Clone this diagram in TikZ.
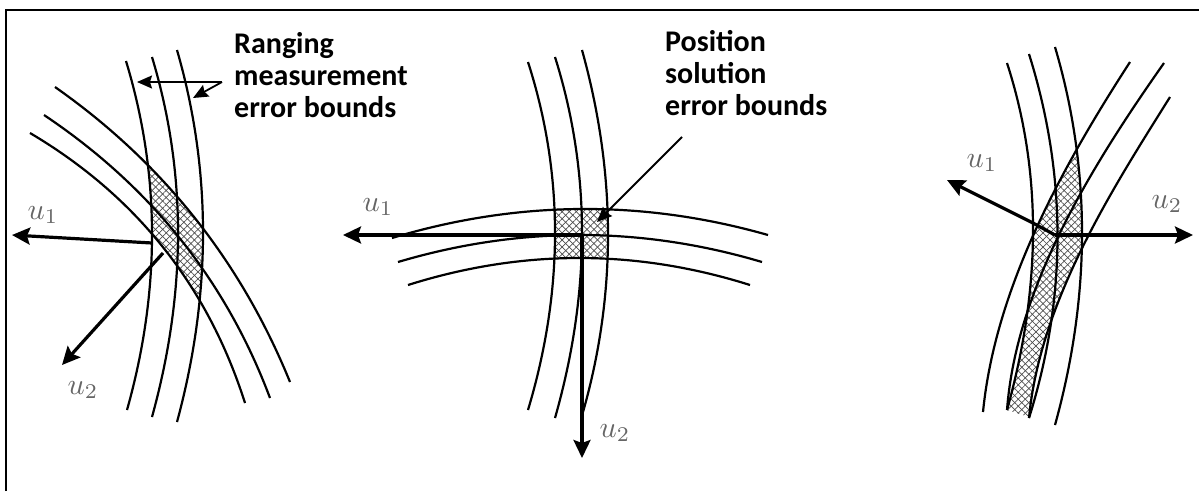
\documentclass[tikz,border=0pt]{standalone}
\usepackage{fontspec}
\setmainfont{Carlito}
\usetikzlibrary{arrows.meta,patterns.meta}
\tikzset{
  curve/.style={line width=2.2pt},
  uarrow/.style={line width=3.2pt,-{Stealth[length=18pt,width=17pt,inset=3pt]}},
  pointer/.style={line width=1.8pt,-{Stealth[length=15pt,width=13pt,inset=2pt]}},
  hatchA/.style={pattern={Lines[angle=45,distance=5pt,line width=0.7pt]},pattern color=black!70},
  hatchB/.style={pattern={Lines[angle=-45,distance=5pt,line width=0.7pt]},pattern color=black!70},
  lbl/.style={font=\fontsize{30}{32}\selectfont\bfseries,align=left,inner sep=0pt,anchor=base west},
  ulbl/.style={scale=3.0,text=black!60,inner sep=0pt},
  frame/.style={line width=2.2pt}
}
\begin{document}
\begin{tikzpicture}[x=1pt,y=-1pt]
\useasboundingbox (0,0) rectangle (1199,491);
\draw[frame] (6,491) -- (6,10) -- (1199,10);

% ---------------- left panel ----------------
\begin{scope}
  \clip (126,61) .. controls (160.33,174) and (160.67,290.33) .. (127,410)
     -- (177,422) .. controls (211.67,294) and (211.67,170) .. (177,50) -- cycle;
  \fill[hatchA] (55,87) .. controls (162.33,162.33) and (240.67,260.67) .. (290,382)
     -- (245,403) .. controls (207.67,285.67) and (136,195.67) .. (30,133) -- cycle;
  \fill[hatchB] (55,87) .. controls (162.33,162.33) and (240.67,260.67) .. (290,382)
     -- (245,403) .. controls (207.67,285.67) and (136,195.67) .. (30,133) -- cycle;
\end{scope}
\draw[curve] (126,61) .. controls (160.33,174) and (160.67,290.33) .. (127,410);
\draw[curve] (152,57) .. controls (186.67,171.67) and (186.67,291.67) .. (152,417);
\draw[curve] (177,50) .. controls (211.67,170) and (211.67,294) .. (177,422);
\draw[curve] (55,87) .. controls (162.33,162.33) and (240.67,260.67) .. (290,382);
\draw[curve] (44,115) .. controls (150.67,186.33) and (226,280.67) .. (270,398);
\draw[curve] (30,133) .. controls (136,195.67) and (207.67,285.67) .. (245,403);

\coordinate (Lo1) at (152,243);
\coordinate (Le1) at (12,235);
\coordinate (Lo2) at (163,253);
\coordinate (Le2) at (62,365);
\draw[uarrow] (Lo1) -- (Le1);
\draw[uarrow] (Lo2) -- (Le2);
\node[ulbl] (Lu1) at (43,215) {$u_1$};
\node[ulbl] (Lu2) at (83,390) {$u_2$};

\node[lbl] (rng) at (234,117) {Ranging\\measurement\\error bounds};
\coordinate (P1s) at (222,82);
\coordinate (P1e) at (137,82);
\coordinate (P2e) at (193,98);
\draw[pointer] (P1s) -- (P1e);
\draw[pointer] (P1s) -- (P2e);

% ---------------- middle panel ----------------
\begin{scope}
  \clip (528,62) .. controls (564,174) and (564,290) .. (528,410)
     -- (583,412) .. controls (616.67,294) and (616.33,173.33) .. (582,50) -- cycle;
  \fill[hatchA] (392,238) .. controls (517.33,200.33) and (642.67,199.33) .. (768,235)
     -- (750,285) .. controls (636,249) and (522,249) .. (408,285) -- cycle;
  \fill[hatchB] (392,238) .. controls (517.33,200.33) and (642.67,199.33) .. (768,235)
     -- (750,285) .. controls (636,249) and (522,249) .. (408,285) -- cycle;
\end{scope}
\draw[curve] (528,62) .. controls (564,174) and (564,290) .. (528,410);
\draw[curve] (555,57) .. controls (591,171.33) and (591,291.67) .. (555,418);
\draw[curve] (582,50) .. controls (616.33,173.33) and (616.67,294) .. (583,412);
\draw[curve] (392,238) .. controls (517.33,200.33) and (642.67,199.33) .. (768,235);
\draw[curve] (398,262) .. controls (519.33,226) and (640.67,226) .. (762,262);
\draw[curve] (408,285) .. controls (522,249) and (636,249) .. (750,285);

\coordinate (Mo) at (582,235);
\coordinate (Me1) at (343,235);
\coordinate (Me2) at (582,458);
\draw[uarrow] (Mo) -- (Me1);
\draw[uarrow] (Mo) -- (Me2);
\node[ulbl] (Mu1) at (378,207) {$u_1$};
\node[ulbl] (Mu2) at (615,433) {$u_2$};

\node[lbl] (pos) at (665,115) {Position\\solution\\error bounds};
\coordinate (P3s) at (682,137);
\coordinate (P3e) at (597,222);
\draw[pointer] (P3s) -- (P3e);

% ---------------- right panel ----------------
\begin{scope}
  \clip (1007,63) .. controls (1041.67,170) and (1041.67,285.67) .. (1007,410)
     -- (1055,425) .. controls (1091,295) and (1091,169) .. (1055,47) -- cycle;
  \fill[hatchA] (1130,62) .. controls (1060,170) and (995,290) .. (983,412)
     -- (1029,418) .. controls (1040,300) and (1115,185) .. (1170,97) -- cycle;
  \fill[hatchB] (1130,62) .. controls (1060,170) and (995,290) .. (983,412)
     -- (1029,418) .. controls (1040,300) and (1115,185) .. (1170,97) -- cycle;
\end{scope}
\draw[curve] (1007,63) .. controls (1041.67,170) and (1041.67,285.67) .. (1007,410);
\draw[curve] (1029,54) .. controls (1067,175.33) and (1067,296.67) .. (1029,418);
\draw[curve] (1055,47) .. controls (1091,169) and (1091,295) .. (1055,425);
\draw[curve] (1130,62) .. controls (1060,170) and (995,290) .. (983,412);
\draw[curve] (1164,63) .. controls (1088,171) and (1016,290) .. (1007,410);
\draw[curve] (1170,97) .. controls (1115,185) and (1040,300) .. (1029,418);

\coordinate (Ro1) at (1033,223);
\coordinate (Ro2) at (1055,235);
\coordinate (Re1) at (947,180);
\coordinate (Re2) at (1193,235);
\draw[uarrow] (Ro2) -- (Ro1) -- (Re1);
\draw[uarrow] (Ro2) -- (Re2);
\node[ulbl] (Ru1) at (982,163) {$u_1$};
\node[ulbl] (Ru2) at (1167,204) {$u_2$};
\end{tikzpicture}
\end{document}
